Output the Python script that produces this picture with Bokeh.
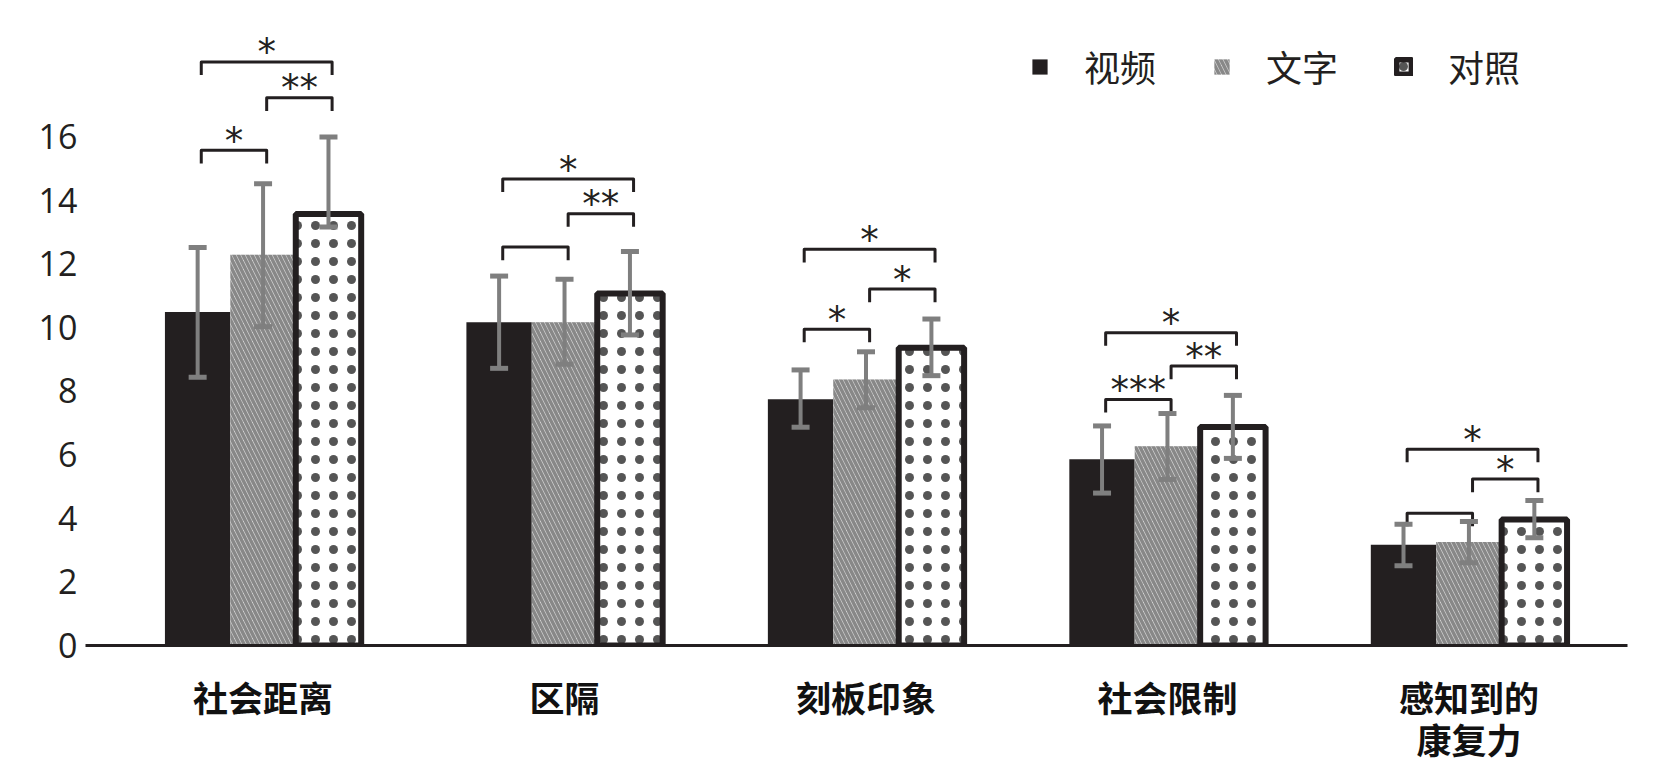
import numpy as np
from bokeh.plotting import figure
from bokeh.models import (ColumnDataSource, Range1d, FixedTicker, Whisker, TeeHead,
                          Legend, LegendItem)
from bokeh.core.properties import value
from bokeh.embed import file_html
from bokeh.resources import INLINE

# ---------------- data ----------------
categories = ["社会距离", "区隔", "刻板印象", "社会限制", "感知到的\n康复力"]
series_names = ["视频", "文字", "对照"]

video_mean = [10.48, 10.16, 7.74, 5.85, 3.17]
video_err_low = [2.05, 1.45, 0.88, 1.06, 0.66]
video_err_high = [2.03, 1.45, 0.92, 1.05, 0.64]

text_mean = [12.28, 10.16, 8.36, 6.26, 3.25]
text_err_low = [2.26, 1.32, 0.89, 1.04, 0.65]
text_err_high = [2.23, 1.35, 0.87, 1.03, 0.65]

control_mean = [13.56, 11.06, 9.36, 6.87, 3.96]
control_err_low = [0.41, 1.30, 0.88, 0.99, 0.57]
control_err_high = [2.42, 1.32, 0.90, 0.99, 0.60]

y_ticks = [0, 2, 4, 6, 8, 10, 12, 14, 16]

# significance brackets: pairs of series (video-text, text-control, video-control)
sig_pairs = [(0, 1), (1, 2), (0, 2)]
sig_labels = [
    ["*", "**", "*"],
    ["", "**", "*"],
    ["*", "*", "*"],
    ["***", "**", "*"],
    ["", "*", "*"],
]
sig_heights = [
    [15.56, 17.21, 18.34],
    [12.52, 13.57, 14.66],
    [9.94, 11.20, 12.45],
    [7.73, 8.78, 9.83],
    [4.16, 5.23, 6.17],
]

# ---------------- layout ----------------
BAR_W = 0.217
offsets = [-BAR_W, 0.0, BAR_W]
INK = "#231f20"
GRAY = "#7f7f7f"

p = figure(width=1662, height=767, output_backend="svg", toolbar_location=None,
           x_range=Range1d(-0.589, 4.526), y_range=Range1d(0, 20.27),
           min_border_left=85, min_border_right=35, min_border_top=0, min_border_bottom=100)
p.outline_line_color = None
p.xgrid.visible = False
p.ygrid.visible = False
p.background_fill_color = "white"
p.border_fill_color = "white"

idx = np.arange(len(categories))
means = [video_mean, text_mean, control_mean]
lows = [video_err_low, text_err_low, control_err_low]
highs = [video_err_high, text_err_high, control_err_high]

styles = [
    dict(fill_color=INK, line_color=None),
    dict(fill_color="#e4e4e4", line_color=None, hatch_pattern="left_diagonal_line",
         hatch_color="#888888", hatch_weight=3.5, hatch_scale=9),
    dict(fill_color="white", line_color=INK, line_width=6, hatch_pattern="dot",
         hatch_color="#555555", hatch_weight=0.1, hatch_scale=18),
]

renderers = []
wx, wlo, whi = [], [], []
for s in range(3):
    xs = idx + offsets[s]
    src = ColumnDataSource(dict(x=xs, top=means[s]))
    r = p.vbar(x="x", top="top", bottom=0, width=BAR_W, source=src, **styles[s])
    renderers.append(r)
    for i in range(len(categories)):
        wx.append(xs[i])
        wlo.append(means[s][i] - lows[s][i])
        whi.append(means[s][i] + highs[s][i])

wsrc = ColumnDataSource(dict(base=wx, lower=wlo, upper=whi))
whisker = Whisker(source=wsrc, base="base", lower="lower", upper="upper",
                  line_color=GRAY, line_width=4, level="overlay",
                  upper_head=TeeHead(size=18, line_color=GRAY, line_width=5),
                  lower_head=TeeHead(size=18, line_color=GRAY, line_width=5))
p.add_layout(whisker)

# brackets
bxs, bys, tx, ty, tt = [], [], [], [], []
TICK = 0.41
for g in range(len(categories)):
    for k, (a, b) in enumerate(sig_pairs):
        y = sig_heights[g][k]
        x1 = g + offsets[a] + 0.012
        x2 = g + offsets[b] + 0.012
        bxs.append([x1, x1, x2, x2])
        bys.append([y - TICK, y, y, y - TICK])
        if sig_labels[g][k]:
            tx.append((x1 + x2) / 2)
            ty.append(y)
            tt.append(sig_labels[g][k])
p.multi_line(xs=bxs, ys=bys, line_color=INK, line_width=3, line_join="round")
p.text(x=tx, y=ty, text=tt, text_font=value("DejaVu Sans"), text_font_size="37px",
       text_color=INK, text_align="center", text_baseline="alphabetic", y_offset=-9)

# axes
p.yaxis.ticker = FixedTicker(ticks=y_ticks)
p.yaxis.axis_line_color = None
p.yaxis.major_tick_line_color = None
p.yaxis.minor_tick_line_color = None
p.yaxis.major_label_text_font = "Open Sans"
p.yaxis.major_label_text_font_size = "34px"
p.yaxis.major_label_text_color = INK
p.yaxis.major_label_standoff = 2

p.xaxis.ticker = FixedTicker(ticks=list(range(len(categories))))
p.xaxis.major_label_overrides = {i: c for i, c in enumerate(categories)}
p.xaxis.axis_line_color = INK
p.xaxis.axis_line_width = 3
p.xaxis.major_tick_line_color = None
p.xaxis.minor_tick_line_color = None
p.xaxis.major_label_text_font = "Noto Sans CJK SC"
p.xaxis.major_label_text_font_size = "35px"
p.xaxis.major_label_text_font_style = "bold"
p.xaxis.major_label_text_color = "#111111"
p.xaxis.major_label_text_line_height = 0.84
p.xaxis.major_label_standoff = 19

legend = Legend(items=[LegendItem(label=series_names[s], renderers=[renderers[s]]) for s in range(3)],
                orientation="horizontal", location=(945, 553),
                glyph_width=19, glyph_height=19, label_standoff=35, spacing=56,
                label_text_font="Noto Sans CJK SC", label_text_font_size="36px",
                label_text_color=INK, border_line_color=None, background_fill_alpha=0,
                padding=0, margin=0)
p.add_layout(legend)

open("out.html", "w").write(file_html(p, INLINE))
